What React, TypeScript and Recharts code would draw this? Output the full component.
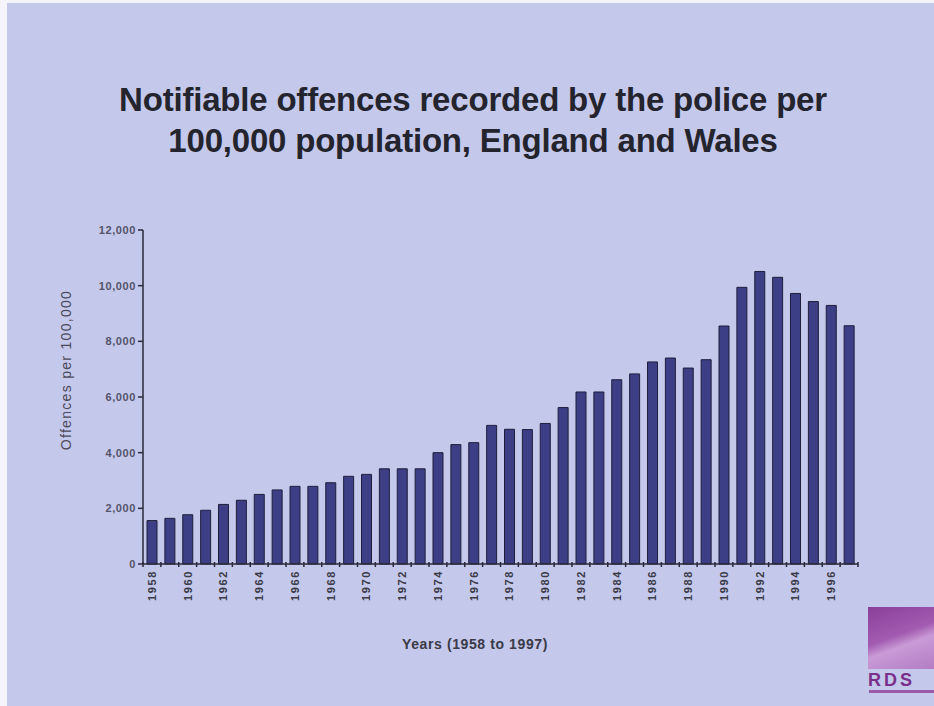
import { BarChart, Bar, XAxis, YAxis } from "recharts"

const YEARS = [
  1958, 1959, 1960, 1961, 1962, 1963, 1964, 1965, 1966, 1967,
  1968, 1969, 1970, 1971, 1972, 1973, 1974, 1975, 1976, 1977,
  1978, 1979, 1980, 1981, 1982, 1983, 1984, 1985, 1986, 1987,
  1988, 1989, 1990, 1991, 1992, 1993, 1994, 1995, 1996, 1997,
]

// offences per 100,000
const OFFENCES = [
  1560, 1640, 1770, 1930, 2140, 2290, 2500, 2660, 2790, 2790,
  2920, 3150, 3220, 3420, 3420, 3420, 4000, 4290, 4360, 4980,
  4840, 4830, 5050, 5620, 6180, 6180, 6620, 6830, 7260, 7400,
  7040, 7340, 8550, 9940, 10510, 10300, 9720, 9430, 9290, 8560,
]

const Y_TICKS = [0, 2000, 4000, 6000, 8000, 10000, 12000]

const BG = "#c4c8ea"
const BAR_FILL = "#3d3f86"
const INK = "#2a2a3a"

const data = YEARS.map((year, i) => ({ year, value: OFFENCES[i] }))

function formatThousands(v: number): string {
  return v === 0 ? "0" : v.toLocaleString("en-GB")
}

function YearTick(props: any) {
  const { x, y, payload, index } = props
  const half = payload.offset ?? 9
  const isLast = index === YEARS.length - 1
  return (
    <g>
      <line x1={x - half} y1={y - 8} x2={x - half} y2={y - 3} stroke={INK} strokeWidth={1.5} />
      {isLast && (
        <line x1={x + half} y1={y - 8} x2={x + half} y2={y - 3} stroke={INK} strokeWidth={1.5} />
      )}
      {index % 2 === 0 && (
        <text
          x={x}
          y={y}
          transform={`rotate(-90 ${x} ${y})`}
          textAnchor="end"
          dominantBaseline="central"
          fontSize={11}
          fontWeight="bold"
          letterSpacing={1.6}
          fill="#3a3a48"
        >
          {payload.value}
        </text>
      )}
    </g>
  )
}

export default function App() {
  return (
    <div
      style={{
        position: "absolute",
        left: 0,
        top: 0,
        width: 934,
        height: 706,
        background: "#f4f4fa",
        fontFamily: "'Liberation Sans', Arial, sans-serif",
        overflow: "hidden",
      }}
    >
      <div style={{ position: "absolute", left: 7, top: 3, right: 0, bottom: 0, background: BG }} />

      <div
        style={{
          position: "absolute",
          left: 0,
          width: 946,
          top: 79,
          textAlign: "center",
          fontSize: 33,
          fontWeight: "bold",
          lineHeight: "41px",
          color: "#24242e",
          letterSpacing: -0.2,
        }}
      >
        Notifiable offences recorded by the police per
        <br />
        100,000 population, England and Wales
      </div>

      <div style={{ position: "absolute", left: 0, top: 0 }}>
        <BarChart
          width={934}
          height={706}
          data={data}
          margin={{ top: 230, right: 76, bottom: 92, left: 83 }}
          barCategoryGap={4}
        >
          <XAxis
            dataKey="year"
            interval={0}
            height={50}
            tickLine={false}
            axisLine={{ stroke: INK, strokeWidth: 1.5 }}
            tick={<YearTick />}
            tickMargin={0}
          />
          <YAxis
            domain={[0, 12000]}
            ticks={Y_TICKS}
            width={60}
            tickFormatter={formatThousands}
            axisLine={{ stroke: INK, strokeWidth: 1.5 }}
            tickLine={{ stroke: INK, strokeWidth: 1.5 }}
            tickSize={5}
            tick={{ fontSize: 11, fontWeight: "bold", fill: "#54546a", letterSpacing: 0.6 }}
          />
          <Bar
            dataKey="value"
            fill={BAR_FILL}
            stroke="#1e1e3a"
            strokeWidth={1}
            barSize={10}
            isAnimationActive={false}
          />
        </BarChart>
      </div>

      <div
        style={{
          position: "absolute",
          left: 66,
          top: 370,
          transform: "translate(-50%, -50%) rotate(-90deg)",
          whiteSpace: "nowrap",
          fontSize: 14,
          letterSpacing: 1.3,
          color: "#4a4a5a",
        }}
      >
        Offences per 100,000
      </div>

      <div
        style={{
          position: "absolute",
          left: 475,
          top: 644,
          transform: "translate(-50%, -50%)",
          whiteSpace: "nowrap",
          fontSize: 14,
          fontWeight: "bold",
          letterSpacing: 0.6,
          color: "#3a3a48",
        }}
      >
        Years (1958 to 1997)
      </div>

      <div
        style={{
          position: "absolute",
          left: 868,
          top: 607,
          width: 66,
          height: 62,
          background: "linear-gradient(160deg, #8a3f9a 0%, #a25bb0 45%, #c99ad6 60%, #b37cc4 100%)",
        }}
      />
      <div
        style={{
          position: "absolute",
          left: 868,
          top: 670,
          fontSize: 18,
          fontWeight: "bold",
          letterSpacing: 3,
          color: "#7a2f8a",
        }}
      >
        RDS
      </div>
      <div style={{ position: "absolute", left: 869, top: 690, width: 65, height: 3, background: "#9a5aa8" }} />
    </div>
  )
}
